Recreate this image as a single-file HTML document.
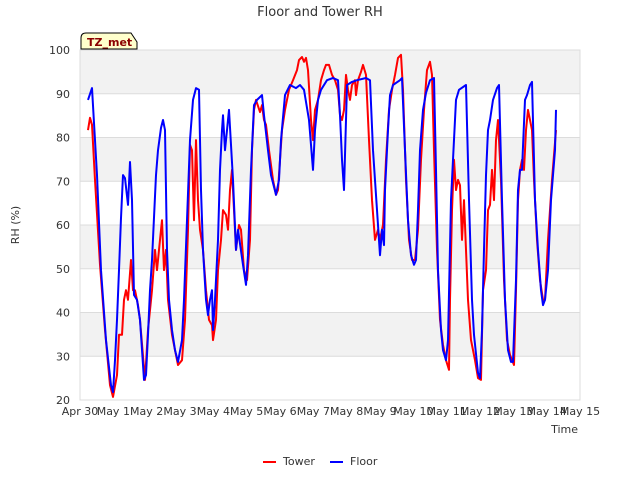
<!DOCTYPE html>
<html><head><meta charset="utf-8"><style>
body{margin:0;background:#fff;font-family:"Liberation Sans",sans-serif;}
svg text{font-family:"DejaVu Sans","Liberation Sans",sans-serif;}
</style></head><body>
<svg id="chart" width="640" height="480">
<rect width="640" height="480" fill="#fff"/>
<text x="320" y="16" text-anchor="middle" font-size="13" fill="#333">Floor and Tower RH</text>
<g id="bands"></g><g id="grid"></g><g id="ticks"></g><g id="lines"></g>
<text transform="translate(19,225) rotate(-90)" text-anchor="middle" font-size="11" fill="#333">RH (%)</text>
<text x="578" y="433" text-anchor="end" font-size="11" fill="#333">Time</text>
<g>
<path d="M81,49 L81,38 Q81,33 86,33 L131,33 L137,42 L137,49 Z" fill="#ffffcc" stroke="#000" stroke-width="1"/>
<text x="87" y="46" font-size="11" font-weight="bold" fill="#8b0000">TZ_met</text></g>
<g>
<line x1="263" y1="462" x2="276" y2="462" stroke="#ff0000" stroke-width="2"/>
<text x="283" y="465" font-size="11" fill="#333">Tower</text>
<line x1="330" y1="462" x2="343" y2="462" stroke="#0000ff" stroke-width="2"/>
<text x="350" y="465" font-size="11" fill="#333">Floor</text>
</g>
</svg>
<script>
const xTickLabels=["Apr 30","May 1","May 2","May 3","May 4","May 5","May 6","May 7","May 8","May 9","May 10","May 11","May 12","May 13","May 14","May 15"];
const yTicks=[20,30,40,50,60,70,80,90,100];
const towerSeries=[[.24,81.7],[.3,84.5],[.36,82.9],[.45,70.3],[.6,50.9],[.75,36],[.9,23.4],[.99,20.7],[1.11,25.7],[1.17,34.9],[1.26,34.9],[1.32,42.9],[1.38,45.1],[1.44,42.9],[1.53,52],[1.59,45.1],[1.65,45.1],[1.74,41.7],[1.8,38.3],[1.95,24.6],[2.04,36],[2.16,45.1],[2.25,54.3],[2.31,49.7],[2.4,56.6],[2.46,61.1],[2.52,49.7],[2.58,54.3],[2.64,42.9],[2.76,34.9],[2.85,31.4],[2.94,28],[3.06,29.1],[3.15,38.3],[3.24,58.9],[3.3,78.3],[3.36,77.1],[3.42,61.1],[3.48,79.4],[3.54,65.7],[3.6,58.9],[3.69,54.3],[3.78,45.1],[3.87,38.3],[3.96,37.1],[3.99,33.7],[4.08,38.3],[4.14,49.7],[4.23,56.6],[4.29,63.4],[4.38,62.3],[4.44,58.9],[4.5,68],[4.56,72.6],[4.62,63.4],[4.68,54.3],[4.77,60],[4.83,58.9],[4.92,49.7],[5.01,47.4],[5.1,56.6],[5.16,77.1],[5.22,86.3],[5.28,88.6],[5.4,85.8],[5.46,87.4],[5.52,84],[5.58,82.9],[5.67,77.1],[5.79,70.3],[5.88,66.9],[5.94,68],[6.06,81.7],[6.15,86.3],[6.27,90.9],[6.39,93.1],[6.51,95.4],[6.57,97.7],[6.66,98.4],[6.72,97.3],[6.78,98.2],[6.84,95.4],[6.93,84],[6.99,79.4],[7.05,86.3],[7.14,88.6],[7.23,93.1],[7.32,95.4],[7.38,96.6],[7.47,96.6],[7.56,94.3],[7.65,93.1],[7.74,90.9],[7.8,85.1],[7.86,84],[7.92,86.3],[7.98,94.3],[8.04,90.9],[8.1,88.6],[8.16,92],[8.25,93.1],[8.28,89.7],[8.34,93.1],[8.43,95],[8.49,96.6],[8.58,94.3],[8.67,79.4],[8.76,65.7],[8.85,56.6],[8.94,58.9],[9.0,56.6],[9.09,60],[9.18,74.9],[9.27,86.3],[9.36,90.9],[9.45,94.3],[9.54,98.2],[9.63,98.9],[9.69,90.9],[9.78,70.3],[9.87,56.6],[9.96,52],[10.05,52],[10.14,58.9],[10.23,74.9],[10.32,86.3],[10.41,95.4],[10.5,97.3],[10.56,94.3],[10.62,77.1],[10.71,54.3],[10.8,38.3],[10.89,32.6],[10.98,29.1],[11.07,26.9],[11.1,42.9],[11.16,63.4],[11.22,74.9],[11.28,68],[11.34,70.3],[11.4,69.1],[11.46,56.6],[11.52,65.7],[11.58,54.3],[11.64,42.9],[11.73,33.7],[11.85,29.1],[11.94,25],[12.03,24.6],[12.09,45.1],[12.18,49.7],[12.24,63.4],[12.3,64.6],[12.36,72.6],[12.42,65.7],[12.48,79.4],[12.54,84],[12.63,70.3],[12.72,47.4],[12.81,33.7],[12.9,30.3],[13.02,28],[13.08,45.1],[13.14,65.7],[13.2,72.6],[13.26,74.9],[13.32,72.6],[13.38,81.7],[13.44,86.3],[13.5,84],[13.56,81.7],[13.62,70.3],[13.71,56.6],[13.8,47.4],[13.89,42.9],[13.95,42.9],[14.04,56.6],[14.16,70.3],[14.28,81.7]];
const floorSeries=[[.24,88.6],[.36,91.3],[.51,71.4],[.63,49.7],[.78,33.7],[.93,23.4],[.99,21.8],[1.05,29.1],[1.11,38.3],[1.17,49.7],[1.23,61.6],[1.29,71.4],[1.35,70.7],[1.44,64.6],[1.5,74.4],[1.56,65.7],[1.62,44],[1.71,42.9],[1.8,38.3],[1.92,24.6],[1.98,25.7],[2.04,34.9],[2.1,45.1],[2.16,52],[2.28,71.4],[2.34,77.1],[2.43,82.2],[2.49,84],[2.55,81.7],[2.61,54.3],[2.67,42.9],[2.76,36],[2.85,31.4],[2.94,28.7],[3.06,33.7],[3.12,42.9],[3.21,61.1],[3.3,79.4],[3.39,88.6],[3.48,91.3],[3.57,90.9],[3.63,68],[3.69,54.3],[3.78,42.9],[3.84,39.4],[3.9,42.9],[3.96,45.1],[3.99,36],[4.05,42.9],[4.14,56.6],[4.2,72.6],[4.26,81.7],[4.29,85.1],[4.35,77.1],[4.41,81.7],[4.47,86.3],[4.59,70.3],[4.68,54.3],[4.74,58.9],[4.89,50.9],[4.98,46.3],[5.04,53.1],[5.13,72.6],[5.22,87.4],[5.31,88.6],[5.46,89.7],[5.52,85.1],[5.64,77.1],[5.73,71.4],[5.88,66.9],[5.97,70.3],[6.03,79.4],[6.15,89.7],[6.3,92],[6.48,91.3],[6.6,92],[6.72,90.9],[6.87,84],[6.99,72.6],[7.05,81.7],[7.14,88.6],[7.23,90.9],[7.41,93.1],[7.59,93.6],[7.74,93.1],[7.8,85.1],[7.86,74.9],[7.92,68],[8.01,92],[8.16,92.7],[8.31,93.1],[8.58,93.6],[8.7,93.1],[8.79,77.1],[8.91,63.4],[9.0,53.1],[9.06,58.9],[9.12,55.4],[9.15,68],[9.24,81.7],[9.3,89.7],[9.39,92],[9.6,93.1],[9.66,93.6],[9.75,77.1],[9.84,61.1],[9.93,53.1],[10.02,50.9],[10.08,52],[10.14,63.4],[10.2,77.1],[10.29,86.3],[10.38,90.2],[10.5,93.1],[10.62,93.6],[10.68,72.6],[10.74,49.7],[10.83,36],[10.89,31.4],[10.98,29.1],[11.04,33.7],[11.13,65.7],[11.19,74.9],[11.28,88.6],[11.37,90.9],[11.58,92],[11.67,65.7],[11.76,42.9],[11.82,34.9],[11.94,26.2],[12.0,25],[12.06,36],[12.12,54.3],[12.18,71.4],[12.24,81.7],[12.3,84],[12.39,88.6],[12.51,91.3],[12.57,92],[12.66,65.7],[12.75,42.9],[12.84,31.4],[12.93,28.7],[12.99,28.7],[13.08,47.4],[13.14,68],[13.2,72.6],[13.26,72.6],[13.35,88.6],[13.41,89.7],[13.5,92],[13.56,92.7],[13.65,65.7],[13.74,54.3],[13.83,45.1],[13.89,41.7],[13.95,42.9],[14.04,49.7],[14.13,65.7],[14.25,77.1],[14.28,86.3]];
const NS="http://www.w3.org/2000/svg";
const L=80,R=580,T=50,B=400;
const xScale=d=>L+d*(R-L)/15;
const yScale=v=>B-(v-20)*(B-T)/80;
function mk(tag,attrs,parent){const e=document.createElementNS(NS,tag);for(const k in attrs)e.setAttribute(k,attrs[k]);document.getElementById(parent).appendChild(e);return e;}
for(let v=40;v<=100;v+=20){
 const b=mk('rect',{x:L,y:yScale(v),width:R-L,height:yScale(v-10)-yScale(v),fill:'#f2f2f2'},'bands');
 
 
}
yTicks.forEach(v=>{
 const g=mk('line',{x1:L,x2:R,y1:yScale(v),y2:yScale(v),stroke:'#dcdcdc','stroke-width':1},'grid');
 
 
 const t=mk('text',{x:L-10,y:yScale(v)+4,'text-anchor':'end','font-size':11,fill:'#333'},'ticks');
 t.textContent=v;
 
 
});
const fr=mk('rect',{x:L,y:T,width:R-L,height:B-T,fill:'none',stroke:'#dcdcdc'},'grid');


xTickLabels.forEach((s,i)=>{
 const t=mk('text',{x:xScale(i),y:B+15,'text-anchor':'middle','font-size':11,fill:'#333'},'ticks');
 t.textContent=s;
 
 
});
function draw(series,color,name){
 const d=series.map((p,i)=>(i?'L':'M')+xScale(p[0]).toFixed(1)+','+yScale(p[1]).toFixed(1)).join(' ');
 const p=mk('path',{d:d,fill:'none',stroke:color,'stroke-width':2,'stroke-linejoin':'round'},'lines');
 
 
}
draw(towerSeries,'#ff0000','tower-line');
draw(floorSeries,'#0000ff','floor-line');
</script>
</body></html>
